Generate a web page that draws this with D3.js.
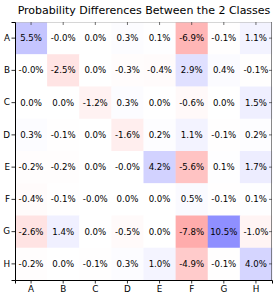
<!DOCTYPE html>
<html><head><meta charset="utf-8">
<script src="https://cdn.jsdelivr.net/npm/d3@7"></script>
<style>body{margin:0;background:#fff}svg{display:block}text{font-family:"DejaVu Sans",sans-serif;fill:#000}</style>
</head><body>
<script>
const rowLabels = ["A","B","C","D","E","F","G","H"];
const colLabels = ["A","B","C","D","E","F","G","H"];
const rowA = [5.5, -0.02, 0.0, 0.3, 0.1, -6.9, -0.1, 1.1];
const rowB = [-0.02, -2.5, 0.0, -0.3, -0.4, 2.9, 0.4, -0.1];
const rowC = [0.0, 0.0, -1.2, 0.3, 0.0, -0.6, 0.0, 1.5];
const rowD = [0.3, -0.1, 0.0, -1.6, 0.2, 1.1, -0.1, 0.2];
const rowE = [-0.2, -0.2, 0.0, -0.02, 4.2, -5.6, 0.1, 1.7];
const rowF = [-0.4, -0.1, -0.02, 0.0, 0.0, 0.5, -0.1, 0.1];
const rowG = [-2.6, 1.4, 0.0, -0.5, 0.0, -7.8, 10.5, -1.0];
const rowH = [-0.2, 0.0, -0.1, 0.3, 1.0, -4.9, -0.1, 4.0];
const matrix = [rowA,rowB,rowC,rowD,rowE,rowF,rowG,rowH];
const title = "Probability Differences Between the 2 Classes";

const W = 279, H = 298;
const m = {left:15, right:7, top:22, bottom:18};
const svg = d3.select("body").append("svg").attr("width",W).attr("height",H);
const x = d3.scaleBand().domain(colLabels).range([m.left, W-m.right]);
const y = d3.scaleBand().domain(rowLabels).range([m.top, H-m.bottom]);
const color = d3.scaleLinear().domain([-24,0,24]).range(["#ff0000","#ffffff","#0000ff"]);

const cells = [];
matrix.forEach((row,i)=>row.forEach((v,j)=>cells.push({r:rowLabels[i], c:colLabels[j], v})));

svg.append("g").selectAll("rect").data(cells).join("rect")
  .attr("x",d=>x(d.c)).attr("y",d=>y(d.r))
  .attr("width",x.bandwidth()+0.3).attr("height",y.bandwidth()+0.3)
  .attr("fill",d=>color(d.v));

svg.append("g").selectAll("text").data(cells).join("text")
  .attr("x",d=>x(d.c)+x.bandwidth()/2).attr("y",d=>y(d.r)+y.bandwidth()/2)
  .attr("text-anchor","middle").attr("dominant-baseline","central")
  .style("font-size","8.6px")
  .text(d=>d.v.toFixed(1)+"%");

// top/right thin frame with inward ticks
const x0 = m.left, x1 = W-m.right, y0 = m.top, y1 = H-m.bottom;
svg.append("line").attr("x1",x0).attr("x2",x1).attr("y1",y0+0.5).attr("y2",y0+0.5).attr("stroke","#bbb").attr("stroke-width",0.6);
svg.append("line").attr("x1",x1-0.5).attr("x2",x1-0.5).attr("y1",y0).attr("y2",y1).attr("stroke","#555").attr("stroke-width",0.7);
svg.append("g").selectAll("line").data(colLabels).join("line")
  .attr("x1",d=>x(d)+x.bandwidth()/2).attr("x2",d=>x(d)+x.bandwidth()/2)
  .attr("y1",y0).attr("y2",y0+3).attr("stroke","#333").attr("stroke-width",0.7);
svg.append("g").selectAll("line").data(rowLabels).join("line")
  .attr("y1",d=>y(d)+y.bandwidth()/2).attr("y2",d=>y(d)+y.bandwidth()/2)
  .attr("x1",x1-3).attr("x2",x1).attr("stroke","#333").attr("stroke-width",0.7);

const xAxis = svg.append("g").attr("transform",`translate(0,${y1})`)
  .call(d3.axisBottom(x).tickSize(3.5).tickPadding(2));
const yAxis = svg.append("g").attr("transform",`translate(${x0},0)`)
  .call(d3.axisLeft(y).tickSize(3.5).tickPadding(1.5));
[xAxis,yAxis].forEach(a=>{
  a.select(".domain").attr("stroke","#000").attr("stroke-width",1);
  a.selectAll(".tick line").attr("stroke","#000").attr("stroke-width",0.8);
  a.selectAll("text").style("font-size","8.8px").style("font-family",'"DejaVu Sans",sans-serif').attr("fill","#000");
});

svg.append("text").attr("x",144).attr("y",14)
  .attr("text-anchor","middle").style("font-size","11px").text(title);
</script>
</body></html>
